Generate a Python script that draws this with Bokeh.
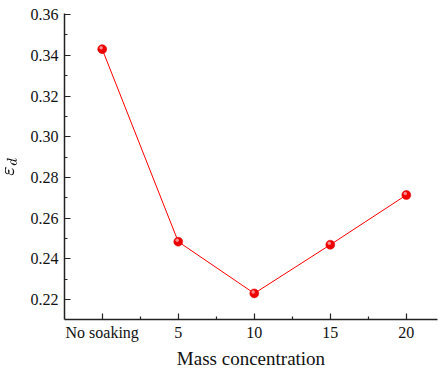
import math
from bokeh.plotting import figure
from bokeh.models import FixedTicker, Range1d, ColumnDataSource
from bokeh.transform import dodge
from bokeh.embed import file_html
from bokeh.resources import INLINE

# data
x_pos = [0, 5, 10, 15, 20]
x_labels = ["No soaking", "5", "10", "15", "20"]
eps_d = [0.343, 0.2485, 0.2231, 0.2470, 0.2714]
y_ticks = [0.22, 0.24, 0.26, 0.28, 0.30, 0.32, 0.34, 0.36]

src = ColumnDataSource(dict(x=x_pos, y=eps_d))

p = figure(width=438, height=371, output_backend="svg", toolbar_location=None,
           x_range=Range1d(-2.48, 22.05), y_range=Range1d(0.2103, 0.3605),
           min_border_left=64, min_border_right=1, min_border_top=13, min_border_bottom=52)
p.outline_line_color = None
p.grid.visible = False
p.background_fill_color = "white"
p.border_fill_color = "white"

p.line("x", "y", source=src, line_color="#ff0000", line_width=1)
p.scatter("x", "y", source=src, size=9, fill_color="#ee0000", line_color="#dd0000", line_width=0.5)
p.scatter(dodge("x", -0.07), dodge("y", 0.0007), source=src, size=3.5,
          fill_color="#ff9a9a", line_color=None, fill_alpha=0.9)

p.xaxis.ticker = FixedTicker(ticks=x_pos, minor_ticks=[2.5, 7.5, 12.5, 17.5])
p.xaxis.major_label_overrides = {x: l for x, l in zip(x_pos, x_labels)}
minor_y = [round(0.21 + 0.01 * i, 2) for i in range(16)]
p.yaxis.ticker = FixedTicker(ticks=y_ticks, minor_ticks=minor_y)
p.yaxis.major_label_overrides = {t: f"{t:.2f}" for t in y_ticks}

for ax in (p.xaxis, p.yaxis):
    ax.axis_line_color = "#222222"
    ax.axis_line_width = 1.5
    ax.major_tick_line_color = "#222222"
    ax.minor_tick_line_color = "#222222"
    ax.major_tick_line_width = 1.2
    ax.minor_tick_line_width = 1.2
    ax.major_tick_in = 6
    ax.major_tick_out = 0
    ax.minor_tick_in = 3
    ax.minor_tick_out = 0
    ax.major_label_text_font = "Liberation Serif"
    ax.major_label_text_font_style = "normal"
    ax.major_label_text_font_size = "16px"
    ax.major_label_text_color = "#111111"
    ax.axis_label_text_font = "Liberation Serif"
    ax.axis_label_text_font_style = "normal"
    ax.axis_label_text_color = "#111111"

p.xaxis.major_label_standoff = 4
p.yaxis.major_label_standoff = 6
p.xaxis.axis_label = "Mass concentration"
p.xaxis.axis_label_text_font_size = "19px"
p.xaxis.axis_label_standoff = 4
p.yaxis.axis_label = r"$$\varepsilon_{d}$$"
p.yaxis.axis_label_text_font_size = "18px"
p.yaxis.axis_label_standoff = 3

open("out.html", "w").write(file_html(p, INLINE))
